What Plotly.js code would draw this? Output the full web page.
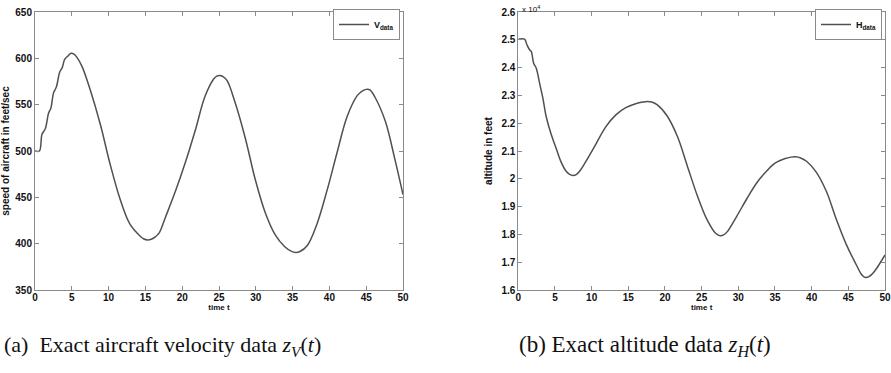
<!DOCTYPE html>
<html>
<head>
<meta charset="utf-8">
<script src="https://cdn.plot.ly/plotly-3.0.1.min.js"></script>
<style>html,body{margin:0;padding:0;background:#fff;}#chart{width:891px;height:373px;}</style>
</head>
<body>
<div id="chart"></div>
<script>
// Velocity data (feet/sec)
const tV = [0, 0.6, 0.95, 1.4, 1.85, 2.15, 2.53, 2.9, 3.35, 3.7, 4.03, 4.4, 4.9, 5.3, 5.7, 6.4, 7.5, 8.9, 10.2, 11.6, 12.9, 14.3, 14.8, 15.3, 15.8, 16.3, 16.9, 17.7, 19.1, 20.4, 21.8, 23.1, 24.3, 24.7, 25.1, 25.5, 26.1, 27.2, 28.6, 29.9, 31.3, 32.6, 33.9, 34.8, 35.4, 36.0, 37.0, 38.3, 39.7, 41.0, 42.4, 43.8, 44.5, 45.0, 45.5, 46.2, 47.6, 48.9, 50];
const V  = [500, 500, 518, 524, 541, 546, 563, 569, 585, 590, 599, 602, 605.5, 604.5, 601, 591, 566, 528, 486, 447, 421, 408, 405, 404, 404.8, 407, 412, 428, 457, 487, 523, 559, 578, 580.8, 581.5, 580.5, 576, 552, 513, 470, 433, 410, 397, 392, 390.5, 391.5, 398, 421, 458, 497, 537, 560, 565, 566.5, 566, 558, 532, 491, 453];
// Altitude data (x 10^4 feet)
const tH = [0, 0.85, 1.18, 1.54, 1.77, 2.09, 2.45, 2.9, 3.35, 3.8, 4.48, 5.16, 5.84, 6.5, 7.0, 7.42, 7.9, 8.33, 9.2, 10.6, 11.9, 13.3, 14.66, 16.0, 17.0, 17.6, 18.2, 18.96, 20.3, 21.7, 23.0, 24.4, 25.75, 26.9, 27.5, 28.0, 28.5, 29.8, 31.2, 32.5, 33.8, 35.0, 36.3, 37.2, 37.8, 38.5, 39.3, 40.6, 42.0, 43.35, 44.7, 46.1, 46.8, 47.3, 47.8, 48.5, 50];
const H  = [2.502, 2.502, 2.482, 2.464, 2.458, 2.416, 2.398, 2.344, 2.29, 2.224, 2.16, 2.11, 2.06, 2.028, 2.016, 2.012, 2.015, 2.026, 2.062, 2.126, 2.186, 2.23, 2.256, 2.27, 2.276, 2.278, 2.276, 2.266, 2.226, 2.152, 2.05, 1.94, 1.852, 1.804, 1.795, 1.798, 1.81, 1.866, 1.93, 1.985, 2.026, 2.056, 2.072, 2.078, 2.079, 2.075, 2.063, 2.025, 1.955, 1.855, 1.765, 1.69, 1.656, 1.645, 1.648, 1.665, 1.726];

const xTicks = [0,5,10,15,20,25,30,35,40,45,50];
const vTicks = [350,400,450,500,550,600,650];
const hTicks = [1.6,1.7,1.8,1.9,2,2.1,2.2,2.3,2.4,2.5,2.6];

const lineCol = '#505050';
const axCol = '#8a8a8a';
const sans = 'Liberation Sans, Arial, sans-serif';
const tickFont = {family: sans, size: 10, color: '#111', weight: 'bold'};

const traces = [
  {x: tV, y: V, type: 'scatter', mode: 'lines', name: 'V<sub>data</sub>',
   line: {color: lineCol, width: 1.5, shape: 'spline', smoothing: 1.0}, xaxis: 'x', yaxis: 'y', legend: 'legend'},
  {x: tH, y: H, type: 'scatter', mode: 'lines', name: 'H<sub>data</sub>',
   line: {color: lineCol, width: 1.5, shape: 'spline', smoothing: 1.0}, xaxis: 'x2', yaxis: 'y2', legend: 'legend2'}
];

function xax(domain, anchor) {
  return {domain: domain, anchor: anchor, range: [0, 50], tickvals: xTicks, ticks: 'inside', ticklen: 4,
    tickcolor: axCol, showline: true, linecolor: axCol, linewidth: 1, mirror: 'ticks', showgrid: false, zeroline: false,
    tickfont: tickFont, ticklabelstandoff: -2,
    title: {text: 'time t', font: {family: sans, size: 8, color: '#111', weight: 'bold'}, standoff: 0}};
}
function yax(domain, anchor, range, ticks, title) {
  return {domain: domain, anchor: anchor, range: range, tickvals: ticks, ticks: 'inside', ticklen: 4,
    tickcolor: axCol, showline: true, linecolor: axCol, linewidth: 1, mirror: 'ticks', showgrid: false, zeroline: false,
    tickfont: tickFont,
    title: {text: title, font: {family: sans, size: 10, color: '#111', weight: 'bold'}, standoff: 6}};
}

const yDom = [1 - 290/373, 1 - 12/373];
const legFont = {family: sans, size: 9, color: '#111', weight: 'bold'};
const layout = {
  width: 891, height: 373,
  margin: {l: 0, r: 0, t: 0, b: 0},
  paper_bgcolor: '#fff', plot_bgcolor: '#fff',
  showlegend: true,
  xaxis: xax([35/891, 403/891], 'y'),
  yaxis: yax(yDom, 'x', [350, 650], vTicks, 'speed of aircraft in feet/sec'),
  xaxis2: xax([518.3/891, 885/891], 'y2'),
  yaxis2: yax(yDom, 'x2', [1.6, 2.6], hTicks, 'altitude in feet'),
  legend: {x: 400/891, y: 1 - 9/373, xanchor: 'right', yanchor: 'top', bordercolor: axCol, borderwidth: 1,
    bgcolor: '#fff', font: legFont, itemwidth: 30, tracegroupgap: 0},
  legend2: {x: 882/891, y: 1 - 9/373, xanchor: 'right', yanchor: 'top', bordercolor: axCol, borderwidth: 1,
    bgcolor: '#fff', font: legFont, itemwidth: 30, tracegroupgap: 0},
  annotations: [
    {text: 'x 10<sup>4</sup>', xref: 'paper', yref: 'paper', x: 520/891, y: 1 - 2/373, xanchor: 'left', yanchor: 'top',
     showarrow: false, font: {family: sans, size: 8, color: '#111'}},
    {text: '(a)  Exact aircraft velocity data <i>z</i><sub><i>V</i></sub>(<i>t</i>)', xref: 'paper', yref: 'paper',
     x: 2/891, y: 1 - 346/373, xanchor: 'left', yanchor: 'middle', showarrow: false,
     font: {family: 'Liberation Serif, Times New Roman, serif', size: 22, color: '#111'}},
    {text: '(b) Exact altitude data <i>z</i><sub><i>H</i></sub>(<i>t</i>)', xref: 'paper', yref: 'paper',
     x: 517/891, y: 1 - 346/373, xanchor: 'left', yanchor: 'middle', showarrow: false,
     font: {family: 'Liberation Serif, Times New Roman, serif', size: 23, color: '#111'}}
  ]
};

Plotly.newPlot('chart', traces, layout, {displayModeBar: false, staticPlot: true});
</script>
</body>
</html>
